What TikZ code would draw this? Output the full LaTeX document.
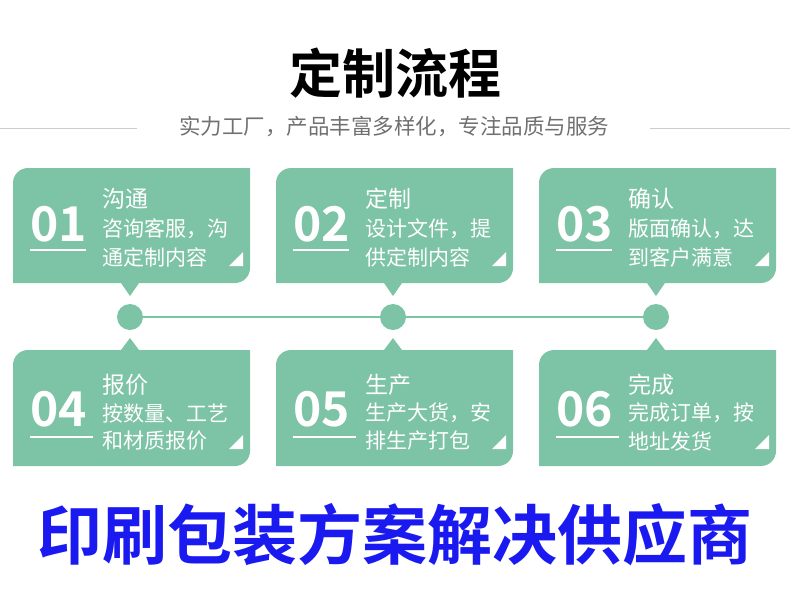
\documentclass[tikz,border=0pt]{standalone}
\usepackage{fontspec}
\newfontfamily\cjk{Noto Sans CJK SC}
\newfontfamily\cjkb{Noto Sans CJK SC Bold}
\definecolor{cardgreen}{HTML}{7DC3A5}
\definecolor{subgray}{HTML}{707070}
\definecolor{titleblue}{HTML}{1A1AF0}
\tikzset{
  card/.style={fill=cardgreen},
  num/.style={text=white,font=\cjkb\fontsize{48}{48}\selectfont,anchor=west},
  head/.style={text=white,font=\cjk\fontsize{23}{23}\selectfont,anchor=west},
  body/.style={text=white,font=\cjk\fontsize{21}{21}\selectfont,anchor=west},
  dot/.style={circle,fill=cardgreen,minimum size=26pt,inner sep=0pt}
}
\newcommand\topcard[6]{% x, num, head, line1, line2, name
  \fill[card] (#1,283) -- (#1,183) arc[start angle=180,end angle=270,radius=15] -- (#1+237,168)
    -- (#1+237,268) arc[start angle=0,end angle=90,radius=15] -- (#1+126,283) -- (#1+117,296) -- (#1+108,283) -- cycle;
  \node[num] (#6n) at (#1+14,224) {#2};
  \draw[white,line width=2pt] (#1+17,250) -- (#1+73,250);
  \node[head] (#6h) at (#1+86,199) {#3};
  \node[body] (#6a) at (#1+86,229) {#4};
  \node[body] (#6b) at (#1+86,257) {#5};
  \fill[white] (#1+216,266) -- (#1+230,266) -- (#1+230,252) -- cycle;
}
\newcommand\botcard[6]{%
  \fill[card] (#1,466) -- (#1,365) arc[start angle=180,end angle=270,radius=15] -- (#1+108,350)
    -- (#1+117,338) -- (#1+126,350) -- (#1+237,350)
    -- (#1+237,451) arc[start angle=0,end angle=90,radius=15] -- cycle;
  \node[num] (#6n) at (#1+14,409) {#2};
  \draw[white,line width=2pt] (#1+17,437) -- (#1+80,437);
  \node[head] (#6h) at (#1+86,385) {#3};
  \node[body] (#6a) at (#1+86,413) {#4};
  \node[body] (#6b) at (#1+86,441) {#5};
  \fill[white] (#1+216,449) -- (#1+230,449) -- (#1+230,435) -- cycle;
}
\begin{document}
\begin{tikzpicture}[x=1pt,y=-1pt]
\useasboundingbox (0,0) rectangle (790,595);
\node[font=\cjkb\fontsize{53}{53}\selectfont] (title) at (395,73) {定制流程};
\node[text=subgray,font=\cjk\fontsize{21.5}{21.5}\selectfont] (sub) at (394,127) {实力工厂，产品丰富多样化，专注品质与服务};
\draw[gray!40,line width=1pt] (0,128) -- (137,128);
\draw[gray!40,line width=1pt] (650,128) -- (790,128);
\topcard{13}{01}{沟通}{咨询客服，沟}{通定制内容}{c1}
\topcard{276}{02}{定制}{设计文件，提}{供定制内容}{c2}
\topcard{539}{03}{确认}{版面确认，达}{到客户满意}{c3}
\botcard{13}{04}{报价}{按数量、工艺}{和材质报价}{c4}
\botcard{276}{05}{生产}{生产大货，安}{排生产打包}{c5}
\botcard{539}{06}{完成}{完成订单，按}{地址发货}{c6}
\node[dot] (d1) at (130,317) {};
\node[dot] (d2) at (393,317) {};
\node[dot] (d3) at (656,317) {};
\draw[cardgreen,line width=2pt] (d1) -- (d2) -- (d3);
\node[text=titleblue,font=\cjkb\fontsize{65}{65}\selectfont] (slogan) at (395,535) {印刷包装方案解决供应商};
\end{tikzpicture}
\end{document}
